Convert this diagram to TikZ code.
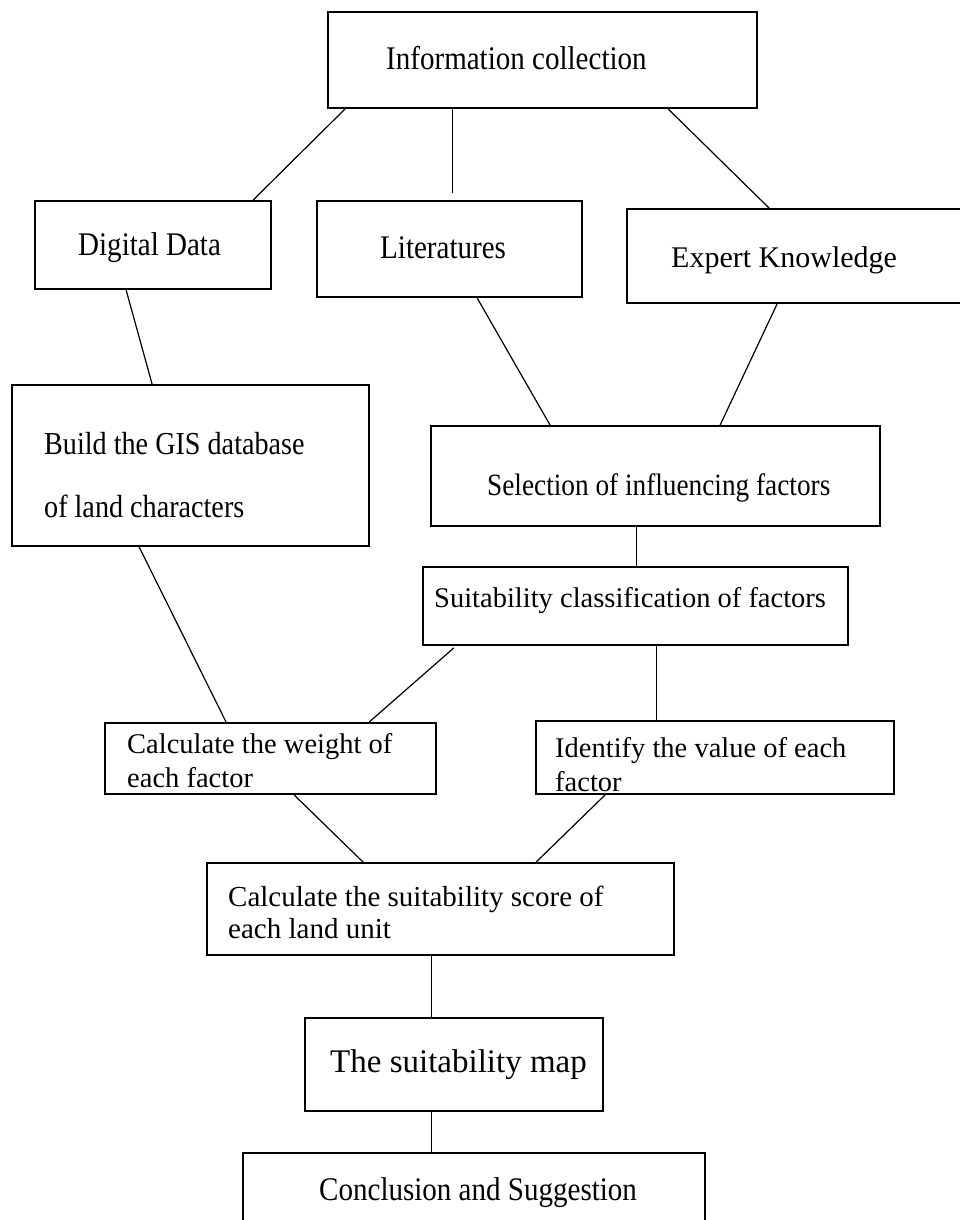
\documentclass[tikz,border=0pt]{standalone}
\usepackage{fontspec}
\setmainfont{Liberation Serif}
\newfontfamily\condfont[FakeStretch=0.88]{Liberation Serif}
\usetikzlibrary{calc}
\begin{document}
\begin{tikzpicture}[x=1pt,y=-1pt,
  box/.style={draw=black, line width=1.8pt, inner sep=0pt},
  link/.style={draw=black, line width=1.2pt},
  ta/.style={inner sep=0pt, anchor=base west, font=\condfont\fontsize{33}{40}\selectfont},
  tb/.style={inner sep=0pt, anchor=base west, font=\fontsize{28.5}{34}\selectfont},
  tc/.style={inner sep=0pt, anchor=base west, font=\fontsize{33}{40}\selectfont}]
\fill[white] (0,0) rectangle (960,1220);
\useasboundingbox (0,0) rectangle (960,1220);

% boxes
\node[box, minimum width=429pt, minimum height=96pt] (info) at (542.5,60) {};
\node[box, minimum width=236pt, minimum height=88pt] (dd) at (153,245) {};
\node[box, minimum width=265pt, minimum height=96pt] (lit) at (449.5,249) {};
\node[box, minimum width=353pt, minimum height=94pt] (exp) at (803.5,256) {};
\node[box, minimum width=357pt, minimum height=161pt] (gis) at (190.5,465.5) {};
\node[box, minimum width=449pt, minimum height=100pt] (sel) at (655.5,476) {};
\node[box, minimum width=425pt, minimum height=78pt] (suit) at (635.5,606) {};
\node[box, minimum width=331pt, minimum height=71pt] (cw) at (270.5,758.5) {};
\node[box, minimum width=358pt, minimum height=73pt] (idv) at (715,757.5) {};
\node[box, minimum width=467pt, minimum height=92pt] (score) at (440.5,909) {};
\node[box, minimum width=298pt, minimum height=93pt] (map) at (454,1064.5) {};
\node[box, minimum width=462pt, minimum height=110pt] (concl) at (474,1208) {};

% texts
\node[ta] (info-t) at (386,70) {Information collection};
\node[ta] (dd-t) at (78,255) {Digital Data};
\node[ta] (lit-t) at (380,258) {Literatures};
\node[tb, font=\fontsize{30}{36}\selectfont] (exp-t) at (671,267) {Expert Knowledge};
\node[ta, font=\condfont\fontsize{32}{40}\selectfont] (gis-t1) at (44,454) {Build the GIS database};
\node[ta, font=\condfont\fontsize{32}{40}\selectfont] (gis-t2) at (44,517) {of land characters};
\node[ta, font=\condfont\fontsize{31}{40}\selectfont] (sel-t) at (487,495) {Selection of influencing factors};
\node[tb] (suit-t) at (434,607) {Suitability classification of factors};
\node[tb] (cw-t1) at (127,753) {Calculate the weight of};
\node[tb] (cw-t2) at (127,787) {each factor};
\node[tb] (idv-t1) at (555,757) {Identify the value of each};
\node[tb] (idv-t2) at (555,791) {factor};
\node[tb, font=\fontsize{29}{34}\selectfont] (score-t1) at (228,906) {Calculate the suitability score of};
\node[tb, font=\fontsize{29}{34}\selectfont] (score-t2) at (228,938) {each land unit};
\node[tc] (map-t) at (330,1072) {The suitability map};
\node[ta] (concl-t) at (319,1200) {Conclusion and Suggestion};

% connectors
\draw[link] ([xshift=18pt]info.south west) -- ([xshift=219pt]dd.north west);
\draw[link, shorten >=7pt] ([xshift=125pt]info.south west) -- ([xshift=136pt]lit.north west);
\draw[link] ([xshift=341pt]info.south west) -- ([xshift=143pt]exp.north west);
\draw[link] ([xshift=92pt]dd.south west) -- ([xshift=141pt]gis.north west);
\draw[link] ([xshift=161pt]lit.south west) -- ([xshift=120pt]sel.north west);
\draw[link] ([xshift=151pt]exp.south west) -- ([xshift=290pt]sel.north west);
\draw[link] ([xshift=206pt]sel.south west) -- ([xshift=214pt]suit.north west);
\draw[link] ([xshift=128pt]gis.south west) -- ([xshift=122pt]cw.north west);
\draw[link, shorten <=3pt] ([xshift=34pt]suit.south west) -- ([xshift=265pt]cw.north west);
\draw[link] ([xshift=234pt]suit.south west) -- ([xshift=121pt]idv.north west);
\draw[link] ([xshift=190pt]cw.south west) -- ([xshift=157pt]score.north west);
\draw[link] ([xshift=70pt]idv.south west) -- ([xshift=330pt]score.north west);
\draw[link] ([xshift=225pt]score.south west) -- ([xshift=127pt]map.north west);
\draw[link] ([xshift=127pt]map.south west) -- ([xshift=189pt]concl.north west);
\end{tikzpicture}
\end{document}
